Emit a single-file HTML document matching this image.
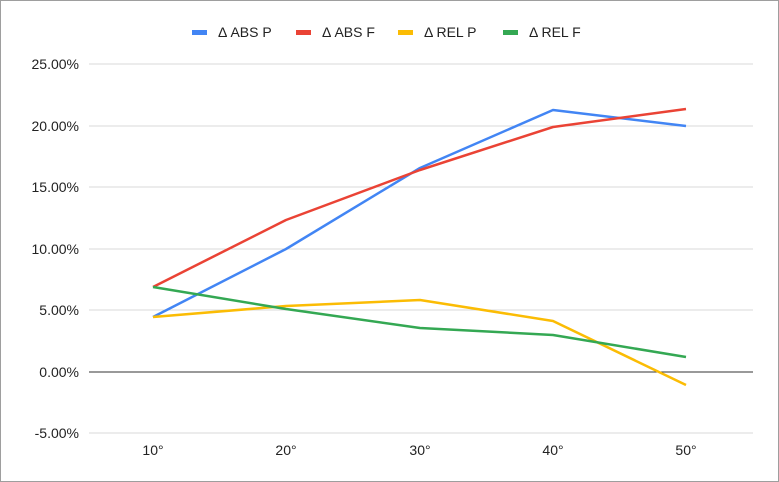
<!DOCTYPE html>
<html><head><style>body{margin:0;background:#fff}svg{display:block}</style></head><body>
<svg width="779" height="482" xmlns="http://www.w3.org/2000/svg" font-family="Liberation Sans, Arial, sans-serif">
<rect x="0.5" y="0.5" width="778" height="481" fill="#fff" stroke="#9e9e9e"/>
<g stroke="#d9d9d9" stroke-width="1">
<line x1="89" x2="753" y1="64" y2="64"/><line x1="89" x2="753" y1="126" y2="126"/>
<line x1="89" x2="753" y1="187" y2="187"/><line x1="89" x2="753" y1="249" y2="249"/>
<line x1="89" x2="753" y1="310" y2="310"/><line x1="89" x2="753" y1="433" y2="433"/>
</g>
<line x1="89" x2="753" y1="372" y2="372" stroke="#333" stroke-width="1"/>
<g font-size="14" fill="#222" text-anchor="end">
<text x="79" y="69">25.00%</text><text x="79" y="131">20.00%</text><text x="79" y="192">15.00%</text>
<text x="79" y="254">10.00%</text><text x="79" y="315">5.00%</text><text x="79" y="377">0.00%</text>
<text x="79" y="438">-5.00%</text>
</g>
<g font-size="14" fill="#222" text-anchor="middle">
<text x="153" y="455">10°</text><text x="286" y="455">20°</text><text x="420" y="455">30°</text>
<text x="553" y="455">40°</text><text x="686" y="455">50°</text>
</g>
<g fill="none" stroke-width="2.5" stroke-linejoin="round">
<polyline stroke="#4285f4" points="153,317 286,249 420,168 553,110 686,126"/>
<polyline stroke="#ea4335" points="153,287 286,220 420,170 553,127 686,109"/>
<polyline stroke="#fbbc04" points="153,317 286,306 420,300 553,321 686,385"/>
<polyline stroke="#34a853" points="153,287 286,309 420,328 553,335 686,357"/>
</g>
<g font-size="14" fill="#222">
<rect x="192" y="30" width="15" height="5" fill="#4285f4"/><text x="218" y="37">Δ ABS P</text>
<rect x="296" y="30" width="15" height="5" fill="#ea4335"/><text x="322" y="37">Δ ABS F</text>
<rect x="398" y="30" width="15" height="5" fill="#fbbc04"/><text x="424" y="37">Δ REL P</text>
<rect x="503" y="30" width="15" height="5" fill="#34a853"/><text x="529" y="37">Δ REL F</text>
</g>
</svg>
</body></html>
